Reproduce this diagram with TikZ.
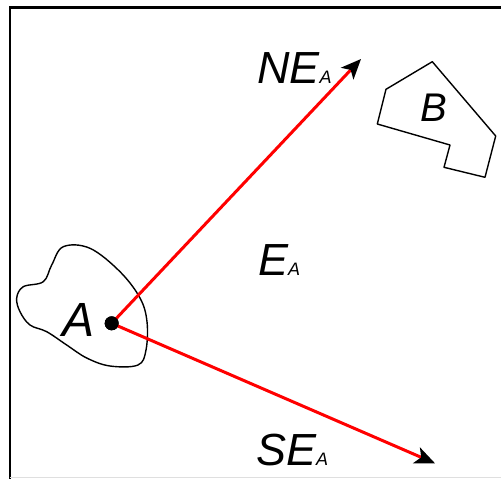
\documentclass[tikz,border=0pt]{standalone}
\usepackage{fontspec}
\setmainfont{Liberation Sans}
\usetikzlibrary{arrows.meta}
\tikzset{
  lbl/.style={inner sep=0pt, anchor=base west, font=\itshape},
  vec/.style={red, line width=3pt, -{Stealth[black, length=20pt, width=17pt, inset=5pt]}},
  outline/.style={black, line width=1.4pt, line join=round},
}
\newcommand{\bigtxt}[1]{{\fontsize{45}{45}\selectfont #1}}
\newcommand{\smltxt}[1]{{\fontsize{18}{18}\selectfont #1}}
\begin{document}
\begin{tikzpicture}[x=1pt, y=-1pt]
\useasboundingbox (0,0) rectangle (501,479);
% frame
\draw[line width=2.4pt] (501,7.5) -- (9.7,7.5) -- (9.7,479);
\draw[gray!25, line width=0.8pt] (9.7,477.8) -- (501,477.8);
% region A
\draw[outline] plot[smooth cycle, tension=0.6] coordinates {
  (63.3,246.7) (90,248.3) (120,271.7) (140,298) (147,321.7) (146,350)
  (138,365) (110,366) (86.7,358) (66.7,345) (46.7,331.7) (30,325)
  (20,311.7) (16.7,298) (23.3,286.7) (43.3,281.7) (51.7,265)};
% region B
\draw[outline] (432.3,61.7) -- (495.7,136) -- (485,177.3) -- (444,167.3)
  -- (450,145) -- (377.3,124) -- (386,89.3) -- cycle;
% point A and vectors
\node[circle, fill=black, inner sep=0pt, minimum size=14pt] (a) at (111.7,323.3) {};
\coordinate (ne) at (361,59);
\coordinate (se) at (435,463.3);
\draw[vec] (a.center) -- (ne);
\draw[vec] (a.center) -- (se);
\fill[black] (a) circle (7pt);
% labels
\node[lbl] (la) at (62,336.7) {{\fontsize{48}{48}\selectfont A}};
\node[lbl] (lb) at (420,121.7) {{\fontsize{40}{40}\selectfont B}};
\node[lbl] (lne) at (257,83.3) {\bigtxt{NE}\smltxt{A}};
\node[lbl] (le) at (258,275) {\bigtxt{E}\smltxt{A}};
\node[lbl] (lse) at (256,465.7) {\bigtxt{SE}\smltxt{A}};
\end{tikzpicture}
\end{document}
